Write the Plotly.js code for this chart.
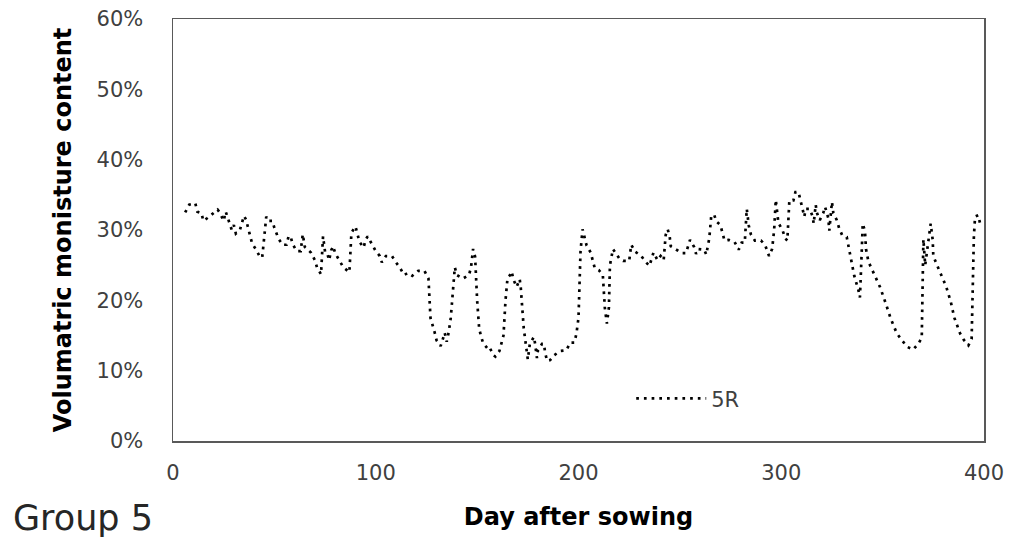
<!DOCTYPE html>
<html>
<head>
<meta charset="utf-8">
<script src="https://cdn.plot.ly/plotly-3.0.1.min.js"></script>
<style>html,body{margin:0;padding:0;background:#fff;}#chart{width:1013px;height:537px;}</style>
</head>
<body>
<div id="chart"></div>
<script>
// Day after sowing
const days = [6,8,11,12,14,15,17,20,22,23,25,26,28,29,30,31,33,34,35,36,37,38,39,41,43,44,45,46,47,49,50,52,54,56,57,58,59,61,63,64,65,68,70,71,73,74,75,76,77,78,79,80,82,84,87,88,90,91,92,94,95,96,98,100,102,103,105,108,110,112,114,116,118,121,124,126,127,128,129,130,132,133,134,135,136,137,138.5,139,140,143,146,147,148,149,150,151,152,153,155,156,158,159,161,162,163,164,165,166,167,168,169.5,171,171.5,173,174,175,176,178,178.5,179.5,180,182,183,183.5,184.5,186,188,191,194,196,198,199,200,201,202,203,204,206,207,208,210,212,213,214,215,215.5,217,218,220,222,225,226,228,231,233,235,236,237,239,240.5,242,243,244,245,245.5,248,251,253,254,255,257,258,259,262,263,264.5,265.5,267,268,270,271,272,274,277,279,280.5,282,283,284,285,287,290,292,294,295.5,296.5,297.3,298.6,300.6,302,303,304,306,307,308.5,309.7,310.6,311.4,312,314,315.5,316,317,317.5,319,320.7,321.6,323.2,323.7,325,325.7,327.4,328.6,330,332.3,334,336,338,338.8,339.3,340.2,341.3,341.8,343,345.4,348.7,351.5,354,357,359.5,362,365,367.6,369.3,369.8,370.1,371,372.2,373.7,374.7,375,378,381.3,383.6,385.4,388.2,390,392.3,393.9,395,395.6,397.2,398];
// Volumetric moisture content (%) for 5R
const moisture5R = [32.5,33.6,33.8,32.6,32.4,31.3,31.7,32.4,32.9,32.5,31.3,32.6,31.0,30.0,30.7,29.5,30.0,31.2,32.0,31.5,30.4,29.1,28.1,27.2,26.1,26.1,29.6,31.9,31.3,31.3,30.3,28.8,27.9,27.9,29.1,29.1,28.0,27.0,27.0,29.4,27.6,26.8,25.7,24.7,23.7,29.1,26.9,26.8,25.7,27.1,27.7,26.7,25.7,24.7,24.0,29.6,30.5,29.4,28.3,27.5,28.6,29.1,28.0,27.0,26.3,25.4,26.3,26.3,25.4,24.6,23.6,23.9,23.5,24.2,24.2,23.1,17.5,16.6,15.5,14.3,13.5,14.4,15.4,14.1,15.5,17.5,23.5,24.7,23.6,23.1,23.6,24.7,27.3,26.2,20.0,16.0,14.8,13.9,13.2,13.4,12.2,12.0,12.8,13.9,15.0,20.0,23.2,23.5,24.1,22.9,21.9,23.0,21.9,16.0,13.8,11.6,13.8,14.8,14.0,11.8,12.9,13.8,13.8,12.6,11.4,11.5,12.2,12.8,12.9,14.0,14.0,15.3,17.5,27.0,30.1,29.0,27.8,26.8,25.6,24.6,24.3,23.6,18.9,16.7,19.0,25.0,27.3,26.9,26.0,25.6,25.6,27.9,26.9,26.3,25.5,24.9,25.8,26.8,25.7,26.3,25.7,29.3,30.1,29.0,27.7,27.2,26.7,26.7,27.5,28.6,27.6,26.6,27.3,27.2,26.5,28.8,32.1,32.1,31.2,30.7,29.6,28.5,28.6,28.3,27.2,28.2,28.2,33.0,30.6,29.4,28.5,28.5,27.9,26.3,27.3,30.0,34.3,31.0,30.0,28.8,28.5,34.2,34.2,35.4,35.4,33.8,32.6,31.9,33.0,33.0,31.9,30.9,33.6,32.5,31.4,32.4,33.3,31.7,29.9,34.0,32.4,31.4,30.2,29.3,29.0,26.7,23.5,21.5,20.4,24.0,30.9,29.8,27.3,25.5,23.9,21.9,19.6,17.4,15.3,14.3,13.4,13.0,13.8,14.7,25.0,28.7,25.0,27.5,30.9,28.6,26.3,24.2,22.0,19.8,17.5,15.3,14.4,13.6,14.5,29.0,31.9,32.1,31.0];
const seriesName = '5R';
const xTickVals = [0,100,200,300,400];
const yTickVals = [0,10,20,30,40,50,60];
const yTickText = ['0%','10%','20%','30%','40%','50%','60%'];

const FONT = 'DejaVu Sans, sans-serif';
const trace = {
  x: days, y: moisture5R, type: 'scatter', mode: 'lines', name: seriesName,
  line: {color: '#000000', width: 2.7, dash: '2.7px,5px'}
};
const layout = {
  width: 1013, height: 537,
  margin: {l: 173, r: 29, t: 19, b: 96},
  paper_bgcolor: '#ffffff', plot_bgcolor: '#ffffff',
  font: {family: FONT, color: '#404040', size: 21},
  showlegend: true,
  legend: {x: 0.565, y: 0.10, xanchor: 'left', yanchor: 'middle', bgcolor: 'rgba(0,0,0,0)',
           font: {family: FONT, size: 21, color: '#404040'}, itemwidth: 70},
  xaxis: {
    range: [0, 400], tickvals: xTickVals, ticks: '', showgrid: false, zeroline: false,
    showline: true, linecolor: '#595959', linewidth: 1.5, mirror: true,
    ticklabelstandoff: 12,
    title: {text: 'Day after sowing', font: {family: FONT, size: 24, color: '#000000', weight: 'bold'}, standoff: 24}
  },
  yaxis: {
    range: [0, 60], tickmode: 'array', tickvals: yTickVals, ticktext: yTickText, ticks: '', showgrid: false, zeroline: false,
    showline: true, linecolor: '#595959', linewidth: 1.5, mirror: true,
    ticklabelstandoff: 24,
    title: {text: 'Volumatric monisture content', font: {family: FONT, size: 24, color: '#000000', weight: 'bold'}, standoff: 18}
  },
  annotations: [{
    text: 'Group 5', xref: 'paper', yref: 'paper', x: -0.2, y: -0.183,
    xanchor: 'left', yanchor: 'middle', showarrow: false,
    font: {family: FONT, size: 35, color: '#262626'}
  }]
};
Plotly.newPlot('chart', [trace], layout, {displayModeBar: false, staticPlot: true}).then(function(gd){
  // lengthen the legend line sample to match the reference
  gd.querySelectorAll('g.legendlines path').forEach(function(p){ p.setAttribute('d', 'M5,0h70'); });
});
</script>
</body>
</html>
